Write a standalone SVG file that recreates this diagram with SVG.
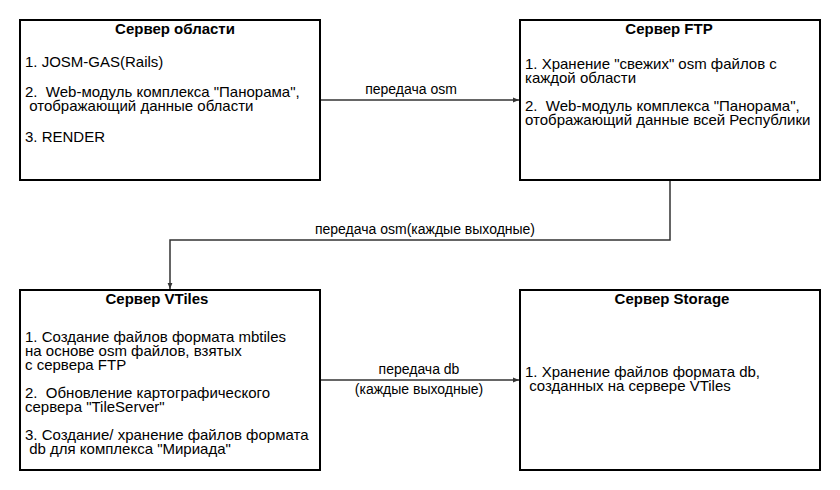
<svg xmlns="http://www.w3.org/2000/svg" width="840" height="490" viewBox="0 0 840 490">
<defs>
<style>
.box{fill:#fff;stroke:#000;stroke-width:2}
.t{font-family:"Liberation Sans",Arial,sans-serif;font-size:15px;fill:#000}
.h{font-weight:bold;text-anchor:middle}
.e{stroke:#333;stroke-width:1.5;fill:none}
.l{font-family:"Liberation Sans",Arial,sans-serif;font-size:14px;fill:#000;text-anchor:middle}
</style>
<marker id="a" viewBox="0 0 10 10" refX="10" refY="5" markerWidth="6" markerHeight="6" markerUnits="userSpaceOnUse" orient="auto">
<path d="M0,1 L10,5 L0,9 Z" fill="#333"/>
</marker>
</defs>
<rect width="840" height="490" fill="#fff"/>
<g id="edges">
<path class="e" d="M320,100 H519" marker-end="url(#a)"/>
<text class="l" x="411" y="94">передача osm</text>
<path class="e" d="M670,180 V240 H170 V289" marker-end="url(#a)"/>
<text class="l" x="425" y="234">передача osm(каждые выходные)</text>
<path class="e" d="M320,380 H519" marker-end="url(#a)"/>
<text class="l" x="419" y="374">передача db</text>
<text class="l" x="419" y="394">(каждые выходные)</text>
</g>
<g id="n1">
<rect class="box" x="20" y="20" width="300" height="160"/>
<text class="t h" x="175" y="34">Сервер области</text>
<text class="t" x="25" y="67">1. JOSM-GAS(Rails)</text>
<text class="t" x="25" y="97" xml:space="preserve">2.  Web-модуль комплекса "Панорама",<tspan x="25" dy="14"> отображающий данные области</tspan></text>
<text class="t" x="25" y="142">3. RENDER</text>
</g>
<g id="n2">
<rect class="box" x="520" y="20" width="300" height="160"/>
<text class="t h" x="669" y="34">Сервер FTP</text>
<text class="t" x="525" y="69">1. Хранение "свежих" osm файлов с<tspan x="525" dy="14">каждой области</tspan></text>
<text class="t" x="525" y="111" xml:space="preserve">2.  Web-модуль комплекса "Панорама",<tspan x="525" dy="14">отображающий данные всей Республики</tspan></text>
</g>
<g id="n3">
<rect class="box" x="20" y="290" width="300" height="180"/>
<text class="t h" x="157" y="304">Сервер VTiles</text>
<text class="t" x="25" y="342">1. Создание файлов формата mbtiles<tspan x="25" dy="14">на основе osm файлов, взятых</tspan><tspan x="25" dy="14">с сервера FTP</tspan></text>
<text class="t" x="25" y="398" xml:space="preserve">2.  Обновление картографического<tspan x="25" dy="14">сервера "TileServer"</tspan></text>
<text class="t" x="25" y="440" xml:space="preserve">3. Создание/ хранение файлов формата<tspan x="25" dy="14"> db для комплекса "Мириада"</tspan></text>
</g>
<g id="n4">
<rect class="box" x="520" y="290" width="300" height="180"/>
<text class="t h" x="672" y="304">Сервер Storage</text>
<text class="t" x="525" y="377" xml:space="preserve">1. Хранение файлов формата db,<tspan x="525" dy="14"> созданных на сервере VTiles</tspan></text>
</g>
</svg>
